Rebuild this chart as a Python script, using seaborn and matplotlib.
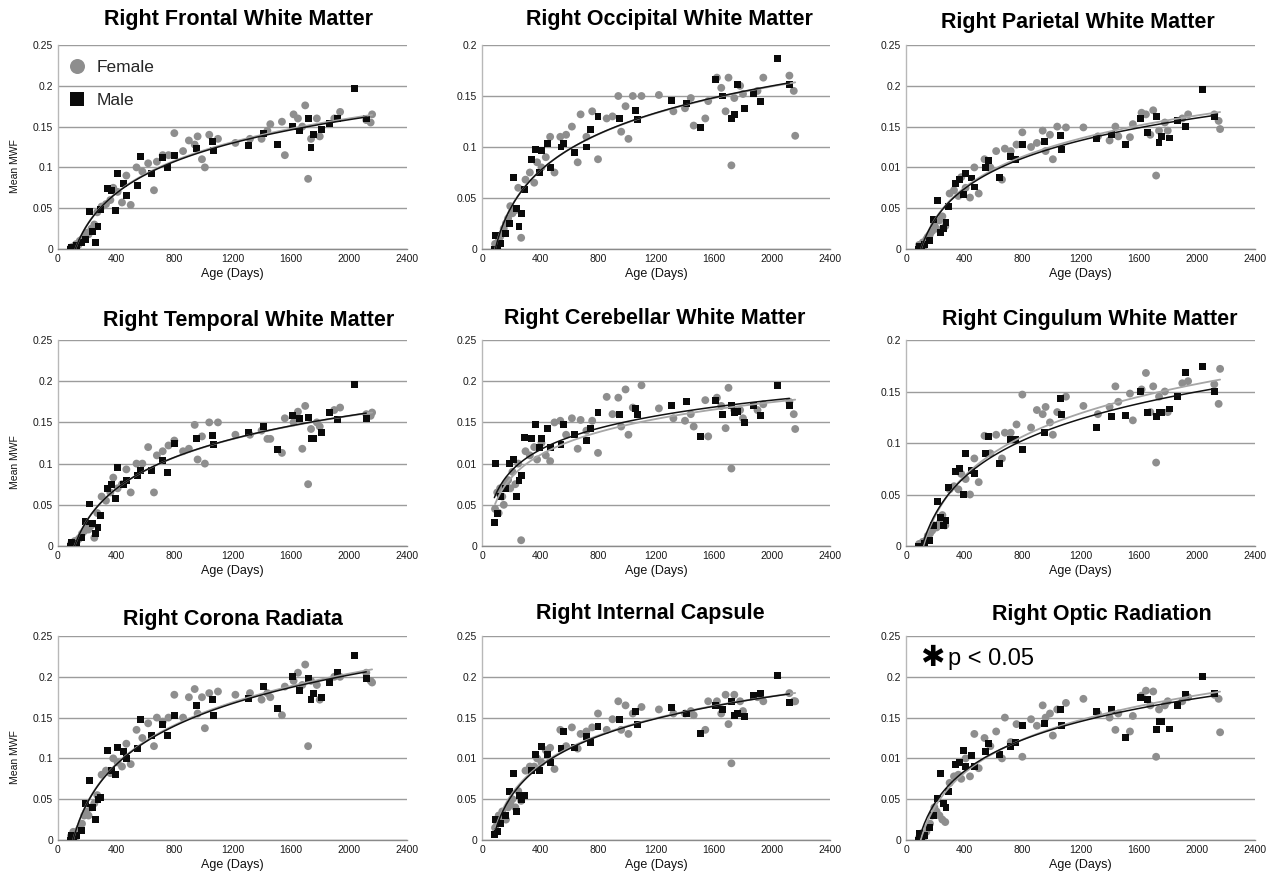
import numpy as np
import pandas as pd
import matplotlib
matplotlib.use("Agg")
import matplotlib.pyplot as plt
from matplotlib.lines import Line2D
import seaborn as sns

sns.set_style("white")
plt.rcParams['font.family'] = ['Liberation Sans', 'DejaVu Sans']

# ---------------- data ----------------
TITLES = ["Right Frontal White Matter", "Right Occipital White Matter", "Right Parietal White Matter",
          "Right Temporal White Matter", "Right Cerebellar White Matter", "Right Cingulum White Matter",
          "Right Corona Radiata", "Right Internal Capsule", "Right Optic Radiation"]

X_TICKS = [0, 400, 800, 1200, 1600, 2000, 2400]
Y_TICKS_25 = [0, 0.05, 0.1, 0.15, 0.2, 0.25]
Y_TICKS_20 = [0, 0.05, 0.1, 0.15, 0.2]
YLAB_A = ["0", "0.05", "0.1", "0.15", "0.2", "0.25"]
YLAB_B = ["0", "0.05", "0.1", "0.15", "0.2"]
YLAB_C = ["0", "0.05", "0.01", "0.15", "0.2", "0.25"]

F_AGE = [90, 105, 115, 125, 140, 150, 165, 180, 195, 210, 230, 250, 270, 300, 330, 360, 380, 410, 440, 470,
         500, 540, 580, 620, 660, 680, 720, 760, 800, 860, 900, 940, 960, 990, 1010, 1040, 1100, 1220, 1320, 1400,
         1440, 1460, 1540, 1560, 1620, 1650, 1680, 1700, 1720, 1740, 1780, 1800, 1900, 1940, 2120, 2150, 2160]
M_AGE = [85, 95, 110, 130, 160, 190, 215, 235, 255, 275, 290, 340, 370, 395, 410, 450, 470, 545, 565, 640,
         720, 750, 800, 950, 1060, 1070, 1310, 1410, 1510, 1610, 1660, 1720, 1740, 1760, 1810, 1870, 1920, 2040, 2120]

F_FRONTAL = [0.002, 0.000, 0.004, 0.006, 0.005, 0.010, 0.012, 0.015, 0.020, 0.018,
             0.025, 0.030, 0.045, 0.052, 0.055, 0.060, 0.075, 0.070, 0.057, 0.090,
             0.054, 0.100, 0.095, 0.105, 0.072, 0.107, 0.115, 0.115, 0.142, 0.120,
             0.133, 0.128, 0.138, 0.110, 0.100, 0.140, 0.135, 0.130, 0.135, 0.135,
             0.145, 0.153, 0.156, 0.115, 0.165, 0.160, 0.150, 0.176, 0.086, 0.135,
             0.160, 0.138, 0.160, 0.168, 0.158, 0.155, 0.165]
F_OCCIPITAL = [0.005, 0.000, 0.008, 0.012, 0.015, 0.020, 0.025, 0.030, 0.042, 0.035,
               0.038, 0.060, 0.011, 0.068, 0.075, 0.065, 0.085, 0.080, 0.090, 0.110,
               0.075, 0.110, 0.112, 0.120, 0.085, 0.132, 0.110, 0.135, 0.088, 0.128,
               0.130, 0.150, 0.115, 0.140, 0.108, 0.150, 0.150, 0.151, 0.135, 0.138,
               0.148, 0.121, 0.128, 0.145, 0.168, 0.158, 0.135, 0.168, 0.082, 0.148,
               0.160, 0.152, 0.155, 0.168, 0.170, 0.155, 0.111]
F_PARIETAL = [0.005, 0.000, 0.008, 0.004, 0.012, 0.015, 0.018, 0.022, 0.030, 0.025,
              0.035, 0.040, 0.028, 0.068, 0.072, 0.065, 0.088, 0.075, 0.063, 0.100,
              0.068, 0.110, 0.100, 0.120, 0.085, 0.123, 0.120, 0.128, 0.143, 0.125,
              0.130, 0.145, 0.120, 0.140, 0.110, 0.150, 0.149, 0.149, 0.138, 0.133,
              0.150, 0.138, 0.137, 0.153, 0.167, 0.165, 0.140, 0.170, 0.090, 0.145,
              0.155, 0.145, 0.160, 0.165, 0.165, 0.157, 0.147]
F_TEMPORAL = [0.003, 0.000, 0.006, 0.003, 0.008, 0.010, 0.015, 0.018, 0.022, 0.020,
              0.025, 0.010, 0.040, 0.060, 0.055, 0.065, 0.083, 0.070, 0.075, 0.093,
              0.065, 0.100, 0.100, 0.120, 0.065, 0.110, 0.115, 0.122, 0.128, 0.115,
              0.118, 0.147, 0.105, 0.133, 0.100, 0.150, 0.150, 0.135, 0.135, 0.140,
              0.130, 0.130, 0.113, 0.155, 0.150, 0.163, 0.118, 0.170, 0.075, 0.142,
              0.150, 0.145, 0.165, 0.168, 0.160, 0.158, 0.162]
F_CEREBELLAR = [0.045, 0.065, 0.040, 0.070, 0.060, 0.050, 0.075, 0.080, 0.070, 0.090,
                0.075, 0.100, 0.007, 0.115, 0.110, 0.120, 0.105, 0.125, 0.110, 0.103,
                0.150, 0.152, 0.135, 0.155, 0.118, 0.153, 0.140, 0.152, 0.113, 0.181,
                0.160, 0.180, 0.145, 0.190, 0.135, 0.168, 0.195, 0.167, 0.155, 0.152,
                0.160, 0.145, 0.177, 0.133, 0.180, 0.170, 0.143, 0.192, 0.094, 0.165,
                0.165, 0.155, 0.165, 0.172, 0.175, 0.160, 0.142]
F_CINGULUM = [0.002, 0.000, 0.004, 0.003, 0.006, 0.010, 0.012, 0.015, 0.020, 0.018,
              0.022, 0.030, 0.020, 0.055, 0.058, 0.055, 0.070, 0.065, 0.050, 0.085,
              0.062, 0.107, 0.090, 0.108, 0.085, 0.110, 0.110, 0.118, 0.147, 0.115,
              0.132, 0.128, 0.135, 0.120, 0.108, 0.130, 0.145, 0.136, 0.128, 0.135,
              0.155, 0.140, 0.148, 0.122, 0.152, 0.168, 0.130, 0.155, 0.081, 0.145,
              0.150, 0.130, 0.158, 0.160, 0.157, 0.138, 0.172]
F_CORONA = [0.005, 0.010, 0.000, 0.008, 0.012, 0.015, 0.020, 0.030, 0.035, 0.030,
            0.040, 0.045, 0.055, 0.080, 0.085, 0.082, 0.100, 0.095, 0.090, 0.118,
            0.093, 0.135, 0.125, 0.143, 0.115, 0.150, 0.145, 0.150, 0.178, 0.150,
            0.175, 0.185, 0.155, 0.175, 0.137, 0.180, 0.182, 0.178, 0.180, 0.172,
            0.180, 0.175, 0.153, 0.188, 0.195, 0.205, 0.190, 0.215, 0.115, 0.195,
            0.190, 0.172, 0.200, 0.200, 0.205, 0.195, 0.193]
F_CAPSULE = [0.015, 0.020, 0.030, 0.025, 0.035, 0.030, 0.025, 0.040, 0.045, 0.050,
             0.040, 0.060, 0.048, 0.085, 0.090, 0.090, 0.100, 0.095, 0.110, 0.113,
             0.087, 0.135, 0.115, 0.138, 0.112, 0.130, 0.133, 0.138, 0.155, 0.135,
             0.148, 0.170, 0.135, 0.165, 0.130, 0.155, 0.163, 0.160, 0.155, 0.155,
             0.158, 0.153, 0.135, 0.170, 0.170, 0.155, 0.178, 0.142, 0.094, 0.178,
             0.170, 0.158, 0.175, 0.170, 0.180, 0.170, 0.170]
F_OPTIC = [0.003, 0.008, 0.000, 0.005, 0.010, 0.015, 0.020, 0.030, 0.040, 0.035,
           0.030, 0.025, 0.022, 0.070, 0.078, 0.080, 0.075, 0.100, 0.078, 0.130,
           0.088, 0.125, 0.115, 0.133, 0.100, 0.150, 0.120, 0.142, 0.102, 0.148,
           0.140, 0.165, 0.150, 0.155, 0.128, 0.160, 0.168, 0.173, 0.155, 0.150,
           0.135, 0.155, 0.133, 0.152, 0.177, 0.183, 0.165, 0.182, 0.102, 0.160,
           0.165, 0.170, 0.170, 0.175, 0.178, 0.173, 0.132]

M_FRONTAL = [0.000, 0.002, 0.000, 0.004, 0.008, 0.012, 0.046, 0.022, 0.008, 0.028,
             0.048, 0.074, 0.072, 0.047, 0.092, 0.080, 0.065, 0.078, 0.113, 0.093,
             0.112, 0.100, 0.115, 0.123, 0.132, 0.121, 0.127, 0.141, 0.128, 0.150,
             0.145, 0.160, 0.124, 0.140, 0.146, 0.154, 0.160, 0.197, 0.160]
M_OCCIPITAL = [0.000, 0.013, 0.000, 0.005, 0.015, 0.025, 0.070, 0.040, 0.022, 0.035,
               0.058, 0.088, 0.098, 0.075, 0.097, 0.103, 0.080, 0.100, 0.103, 0.095,
               0.100, 0.117, 0.130, 0.128, 0.136, 0.127, 0.146, 0.143, 0.119, 0.166,
               0.150, 0.128, 0.132, 0.161, 0.138, 0.152, 0.145, 0.187, 0.161]
M_PARIETAL = [0.000, 0.003, 0.000, 0.005, 0.010, 0.036, 0.060, 0.020, 0.025, 0.032,
              0.052, 0.080, 0.085, 0.067, 0.092, 0.087, 0.076, 0.100, 0.108, 0.088,
              0.113, 0.110, 0.128, 0.132, 0.139, 0.122, 0.135, 0.140, 0.128, 0.160,
              0.143, 0.162, 0.130, 0.138, 0.136, 0.157, 0.150, 0.195, 0.162]
M_TEMPORAL = [0.000, 0.004, 0.000, 0.003, 0.010, 0.030, 0.051, 0.027, 0.015, 0.022,
              0.037, 0.070, 0.075, 0.058, 0.095, 0.075, 0.080, 0.085, 0.092, 0.092,
              0.104, 0.089, 0.124, 0.130, 0.134, 0.123, 0.138, 0.145, 0.117, 0.158,
              0.155, 0.156, 0.130, 0.130, 0.138, 0.162, 0.153, 0.196, 0.155]
M_CEREBELLAR = [0.028, 0.100, 0.040, 0.060, 0.070, 0.100, 0.105, 0.060, 0.080, 0.085,
                0.132, 0.130, 0.148, 0.120, 0.130, 0.143, 0.120, 0.123, 0.148, 0.135,
                0.128, 0.143, 0.162, 0.160, 0.167, 0.160, 0.170, 0.175, 0.133, 0.177,
                0.160, 0.170, 0.162, 0.163, 0.150, 0.170, 0.158, 0.195, 0.170]
M_CINGULUM = [0.000, 0.000, 0.000, 0.002, 0.005, 0.020, 0.043, 0.028, 0.020, 0.025,
              0.057, 0.072, 0.075, 0.050, 0.090, 0.073, 0.070, 0.090, 0.106, 0.080,
              0.103, 0.103, 0.094, 0.110, 0.143, 0.128, 0.115, 0.126, 0.127, 0.150,
              0.130, 0.126, 0.130, 0.130, 0.133, 0.145, 0.168, 0.174, 0.150]
M_CORONA = [0.000, 0.005, 0.000, 0.005, 0.012, 0.045, 0.073, 0.040, 0.025, 0.050,
            0.052, 0.110, 0.085, 0.080, 0.113, 0.108, 0.100, 0.112, 0.148, 0.128,
            0.142, 0.128, 0.153, 0.165, 0.172, 0.152, 0.173, 0.188, 0.161, 0.200,
            0.183, 0.198, 0.172, 0.180, 0.175, 0.193, 0.205, 0.226, 0.198]
M_CAPSULE = [0.007, 0.025, 0.010, 0.020, 0.030, 0.060, 0.081, 0.035, 0.055, 0.050,
             0.054, 0.085, 0.105, 0.085, 0.115, 0.105, 0.095, 0.112, 0.133, 0.113,
             0.127, 0.120, 0.139, 0.148, 0.157, 0.142, 0.162, 0.155, 0.130, 0.165,
             0.160, 0.170, 0.153, 0.155, 0.151, 0.177, 0.180, 0.202, 0.168]
M_OPTIC = [0.000, 0.008, 0.000, 0.005, 0.015, 0.030, 0.051, 0.082, 0.045, 0.040,
           0.060, 0.092, 0.095, 0.110, 0.090, 0.104, 0.090, 0.108, 0.118, 0.105,
           0.115, 0.120, 0.140, 0.143, 0.160, 0.140, 0.158, 0.160, 0.126, 0.175,
           0.172, 0.135, 0.145, 0.145, 0.136, 0.165, 0.178, 0.200, 0.180]

FEMALE = [F_FRONTAL, F_OCCIPITAL, F_PARIETAL, F_TEMPORAL, F_CEREBELLAR, F_CINGULUM, F_CORONA, F_CAPSULE, F_OPTIC]
MALE = [M_FRONTAL, M_OCCIPITAL, M_PARIETAL, M_TEMPORAL, M_CEREBELLAR, M_CINGULUM, M_CORONA, M_CAPSULE, M_OPTIC]
Y_TICKS = [Y_TICKS_25, Y_TICKS_20, Y_TICKS_25, Y_TICKS_25, Y_TICKS_25, Y_TICKS_20, Y_TICKS_25, Y_TICKS_25, Y_TICKS_25]
Y_LABELS = [YLAB_A, YLAB_B, YLAB_C, YLAB_A, YLAB_C, YLAB_B, YLAB_A, YLAB_C, YLAB_C]

# ---------------- layout (pixels) ----------------
W, H = 1279, 881
COL_L = [58, 482, 906]
COL_R = [407, 830, 1255]
ROW_T = [45, 340, 636]
ROW_B = [249, 546, 840]
TITLE_X = [239, 669, 1078, 249, 655, 1090, 233, 650, 1102]
TITLE_Y = [25, 25, 28, 326, 324, 325, 625, 619, 620]

F_COLOR = "#8e8e8e"
M_COLOR = "#0a0a0a"

fig = plt.figure(figsize=(W / 100, H / 100), dpi=100)
fig.patch.set_facecolor("white")

for i in range(9):
    r, c = divmod(i, 3)
    L, R, T, B = COL_L[c], COL_R[c], ROW_T[r], ROW_B[r]
    ax = fig.add_axes([L / W, 1 - B / H, (R - L) / W, (B - T) / H])
    ax.set_facecolor("white")

    df_f = pd.DataFrame({"age": F_AGE, "mwf": FEMALE[i]})
    df_m = pd.DataFrame({"age": M_AGE, "mwf": MALE[i]})

    sns.scatterplot(data=df_f, x="age", y="mwf", color=F_COLOR, marker="o", s=32,
                    edgecolor="none", linewidth=0, ax=ax, zorder=3)
    sns.scatterplot(data=df_m, x="age", y="mwf", color=M_COLOR, marker="s", s=25,
                    edgecolor="none", linewidth=0, ax=ax, zorder=3)
    sns.regplot(data=df_f, x="age", y="mwf", logx=True, scatter=False, ci=None, ax=ax,
                line_kws={"color": "#a6a6a6", "lw": 1.3, "zorder": 5})
    sns.regplot(data=df_m, x="age", y="mwf", logx=True, scatter=False, ci=None, ax=ax,
                line_kws={"color": "#111111", "lw": 1.1, "zorder": 6})

    ymax = Y_TICKS[i][-1]
    ax.set_xlim(0, 2400)
    ax.set_ylim(0, ymax)
    ax.set_xticks(X_TICKS)
    ax.set_xticklabels([str(t) for t in X_TICKS])
    ax.set_yticks(Y_TICKS[i])
    ax.set_yticklabels(Y_LABELS[i])
    ax.tick_params(axis="both", length=0, labelsize=7.5, colors="#1a1a1a")
    ax.tick_params(axis="y", pad=3.5)
    ax.tick_params(axis="x", pad=3.5)
    ax.yaxis.grid(True, color="#9c9c9c", lw=1.0, zorder=0)
    ax.xaxis.grid(False)
    ax.set_axisbelow(True)
    for s in ["top", "right"]:
        ax.spines[s].set_visible(False)
    ax.spines["left"].set_color("#b8b8b8")
    ax.spines["left"].set_linewidth(1.0)
    ax.spines["bottom"].set_color("#8a8a8a")
    ax.spines["bottom"].set_linewidth(1.0)

    ax.set_xlabel("Age (Days)", fontsize=9, labelpad=3, color="#111111")
    if c == 0:
        ax.set_ylabel("Mean MWF", fontsize=7.5, color="#111111")
        ax.yaxis.set_label_coords(-0.109, 0.407)
    else:
        ax.set_ylabel("")

    fig.text(TITLE_X[i] / W, 1 - TITLE_Y[i] / H, TITLES[i], ha="center", va="baseline",
             fontsize=15.5, fontweight="bold", color="#000000")

    if i == 0:
        handles = [Line2D([], [], marker="o", ls="", color=F_COLOR, markersize=10.8, markeredgewidth=0),
                   Line2D([], [], marker="s", ls="", color=M_COLOR, markersize=10.5, markeredgewidth=0)]
        ax.legend(handles, ["Female", "Male"], loc="upper left", bbox_to_anchor=(0.03, 0.925),
                  frameon=False, fontsize=12.5, handlelength=1.0, handletextpad=0.6,
                  labelspacing=1.0, borderaxespad=0, borderpad=0)
    else:
        leg = ax.get_legend()
        if leg is not None:
            leg.remove()

    if i == 8:
        fig.text(932 / W, 1 - 658 / H, "\u2731", ha="center", va="center", fontsize=21,
                 family=["DejaVu Sans"], color="#000000")
        fig.text(948 / W, 1 - 665 / H, "p < 0.05", ha="left", va="baseline", fontsize=17,
                 color="#000000")

fig.savefig("out.png", dpi=100, facecolor="white")
